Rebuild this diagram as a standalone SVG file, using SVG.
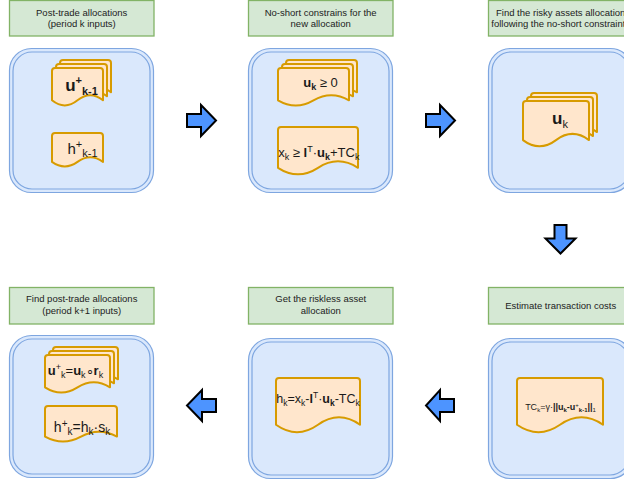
<svg xmlns="http://www.w3.org/2000/svg" xmlns:xlink="http://www.w3.org/1999/xlink" width="624" height="484" viewBox="0 0 624 484">
<style>
.lbl{fill:#d5e8d4;stroke:#82b366;stroke-width:1.3}
.cont{fill:#dae8fc;stroke:#7ea6e0;stroke-width:1.2}
.cont2{fill:none;stroke:#7ea6e0;stroke-width:1.2}
.doc{fill:#ffe6cc;stroke:#d79b00;stroke-width:2;stroke-linejoin:round}
.arr{fill:#4d94ff;stroke:#000;stroke-width:2;stroke-linejoin:miter}
text{font-family:"Liberation Sans",Arial,sans-serif;fill:#1a1a1a;text-anchor:middle}
.t{font-size:9.5px;fill:#222}
</style>
<defs>
<path id="dA1" class="doc" d="M3,0H48Q51,0 51,3V32.3Q38.25,22.04 25.5,32.3Q12.75,42.56 0,32.3V3Q0,0 3,0Z"/>
<path id="dA2" class="doc" d="M3,0H48Q51,0 51,3V28.9Q38.25,19.72 25.5,28.9Q12.75,38.08 0,28.9V3Q0,0 3,0Z"/>
<path id="dB1" class="doc" d="M3,0H68Q71,0 71,3V32.3Q53.25,22.04 35.5,32.3Q17.75,42.56 0,32.3V3Q0,0 3,0Z"/>
<path id="dB2" class="doc" d="M3,0H77Q80,0 80,3V40.8Q60,27.84 40,40.8Q20,53.76 0,40.8V3Q0,0 3,0Z"/>
<path id="dC1" class="doc" d="M3,0H63Q66,0 66,3V39.1Q49.5,26.68 33,39.1Q16.5,51.52 0,39.1V3Q0,0 3,0Z"/>
<path id="dD1" class="doc" d="M3,0H62Q65,0 65,3V32.3Q48.75,22.04 32.5,32.3Q16.25,42.56 0,32.3V3Q0,0 3,0Z"/>
<path id="dD2" class="doc" d="M3,0H69Q72,0 72,3V30.6Q54,20.88 36,30.6Q18,40.32 0,30.6V3Q0,0 3,0Z"/>
<path id="dE" class="doc" d="M3,0H81Q84,0 84,3V46.75Q63,31.9 42,46.75Q21,61.6 0,46.75V3Q0,0 3,0Z"/>
<path id="dF" class="doc" d="M3,0H83Q86,0 86,3V46.75Q64.5,31.9 43,46.75Q21.5,61.6 0,46.75V3Q0,0 3,0Z"/>
</defs>

<g id="label1"><rect class="lbl" x="9.5" y="0.5" width="144.5" height="35.5"/><text class="t" x="81.7" y="15.5">Post-trade allocations</text><text class="t" x="81.7" y="27">(period k inputs)</text></g>
<g id="label2"><rect class="lbl" x="248.5" y="0.5" width="144.5" height="35.5"/><text class="t" x="320.7" y="15.5">No-short constrains for the</text><text class="t" x="320.7" y="27">new allocation</text></g>
<g id="label3"><rect class="lbl" x="488.5" y="0.5" width="144.5" height="35.5"/><text class="t" x="560.7" y="15.5">Find the risky assets allocation</text><text class="t" x="560.7" y="27">following the no-short constraints</text></g>
<g id="label4"><rect class="lbl" x="9.5" y="287.5" width="144.5" height="36.5"/><text class="t" x="81.7" y="302">Find post-trade allocations</text><text class="t" x="81.7" y="314">(period k+1 inputs)</text></g>
<g id="label5"><rect class="lbl" x="248.5" y="287.5" width="144.5" height="36.5"/><text class="t" x="320.7" y="302">Get the riskless asset</text><text class="t" x="320.7" y="314">allocation</text></g>
<g id="label6"><rect class="lbl" x="488.5" y="287.5" width="144.5" height="36.5"/><text class="t" x="560.7" y="308.5">Estimate transaction costs</text></g>

<g id="step1">
<rect class="cont" x="9.5" y="48.5" width="144" height="144" rx="22"/>
<rect class="cont2" x="13" y="52" width="137" height="137" rx="19"/>
<g transform="translate(52,68)"><use xlink:href="#dA1" x="8" y="-8"/><use xlink:href="#dA1" x="4" y="-4"/><use xlink:href="#dA1"/></g>
<text x="81.5" y="91" font-size="17" font-weight="bold">u<tspan font-size="11" dy="-7">+</tspan><tspan font-size="11" dy="11">k-1</tspan></text>
<g transform="translate(52,133)"><use xlink:href="#dA2"/></g>
<text x="82.5" y="154" font-size="15">h<tspan font-size="11" dy="-6">+</tspan><tspan font-size="11" dy="9">k-1</tspan></text>
</g>

<g id="step2">
<rect class="cont" x="248.5" y="48.5" width="144" height="144" rx="22"/>
<rect class="cont2" x="252" y="52" width="137" height="137" rx="19"/>
<g transform="translate(278,68)"><use xlink:href="#dB1" x="8" y="-8"/><use xlink:href="#dB1" x="4" y="-4"/><use xlink:href="#dB1"/></g>
<text x="320.5" y="87" font-size="13"><tspan font-weight="bold">u</tspan><tspan font-size="9" font-weight="bold" dy="3">k</tspan><tspan dy="-3"> ≥ 0</tspan></text>
<g transform="translate(278,127)"><use xlink:href="#dB2"/></g>
<text x="318.8" y="156.5" font-size="13">x<tspan font-size="9" dy="3">k</tspan><tspan dy="-3"> ≥ </tspan><tspan font-weight="bold">l</tspan><tspan font-size="9" dy="-5">T</tspan><tspan dy="5">·</tspan><tspan font-weight="bold">u</tspan><tspan font-size="9" font-weight="bold" dy="3">k</tspan><tspan dy="-3">+TC</tspan><tspan font-size="9" dy="3">k</tspan></text>
</g>

<g id="step3">
<rect class="cont" x="488.5" y="48.5" width="144" height="144" rx="22"/>
<rect class="cont2" x="492" y="52" width="137" height="137" rx="19"/>
<g transform="translate(523,101)"><use xlink:href="#dC1" x="8" y="-8"/><use xlink:href="#dC1" x="4" y="-4"/><use xlink:href="#dC1"/></g>
<text x="560" y="124" font-size="17"><tspan font-weight="bold">u</tspan><tspan font-size="11" dy="4">k</tspan></text>
</g>

<g id="step4">
<rect class="cont" x="9.5" y="335.5" width="144" height="142" rx="22"/>
<rect class="cont2" x="13" y="339" width="137" height="135" rx="19"/>
<g transform="translate(45,355)"><use xlink:href="#dD1" x="8" y="-8"/><use xlink:href="#dD1" x="4" y="-4"/><use xlink:href="#dD1"/></g>
<text x="75.5" y="375" font-size="13"><tspan font-weight="bold">u</tspan><tspan font-size="9" dy="-5">+</tspan><tspan font-size="9" dy="8">k</tspan><tspan dy="-3">=</tspan><tspan font-weight="bold">u</tspan><tspan font-size="9" dy="3">k</tspan><tspan dy="-3">∘</tspan><tspan font-weight="bold">r</tspan><tspan font-size="9" dy="3">k</tspan></text>
<g transform="translate(45,406)"><use xlink:href="#dD2"/></g>
<text x="82" y="432" font-size="14">h<tspan font-size="10" dy="-5">+</tspan><tspan font-size="10" dy="8">k</tspan><tspan dy="-3">=h</tspan><tspan font-size="10" dy="3">k</tspan><tspan dy="-3">·s</tspan><tspan font-size="10" dy="3">k</tspan></text>
</g>

<g id="step5">
<rect class="cont" x="248.5" y="338.5" width="144" height="140" rx="22"/>
<rect class="cont2" x="252" y="342" width="137" height="133" rx="19"/>
<g transform="translate(276,378)"><use xlink:href="#dE"/></g>
<text x="318" y="403" font-size="12.5">h<tspan font-size="8.5" dy="3">k</tspan><tspan dy="-3">=x</tspan><tspan font-size="8.5" dy="3">k</tspan><tspan dy="-3">-</tspan><tspan font-weight="bold">l</tspan><tspan font-size="8.5" dy="-5">T</tspan><tspan dy="5">·</tspan><tspan font-weight="bold">u</tspan><tspan font-size="8.5" font-weight="bold" dy="3">k</tspan><tspan dy="-3">-TC</tspan><tspan font-size="8.5" dy="3">k</tspan></text>
</g>

<g id="step6">
<rect class="cont" x="488.5" y="338.5" width="144" height="140" rx="22"/>
<rect class="cont2" x="492" y="342" width="137" height="133" rx="19"/>
<g transform="translate(517,378)"><use xlink:href="#dF"/></g>
<text x="560.5" y="410" font-size="9">TC<tspan font-size="6" dy="2">k</tspan><tspan dy="-2">=γ·</tspan><tspan font-weight="bold">||u</tspan><tspan font-size="6" font-weight="bold" dy="2">k</tspan><tspan dy="-2" font-weight="bold">-u</tspan><tspan font-size="6" dy="-3">+</tspan><tspan font-size="6" font-weight="bold" dy="5">k-1</tspan><tspan dy="-2" font-weight="bold">||</tspan><tspan font-size="6" dy="2">1</tspan></text>
</g>

<g id="connectors">
<path class="arr" d="M187,114H201V105L216,120.5L201,136V127H187Z"/>
<path class="arr" d="M426,114H440V105L455,120.5L440,136V127H426Z"/>
<path class="arr" d="M554.5,225H566.5V238.5H575.5L560.5,253.5L545.5,238.5H554.5Z"/>
<path class="arr" d="M454,399H440V390L426,405.5L440,421V412H454Z"/>
<path class="arr" d="M216,399H202V390L187,405.5L202,421V412H216Z"/>
</g>
</svg>
